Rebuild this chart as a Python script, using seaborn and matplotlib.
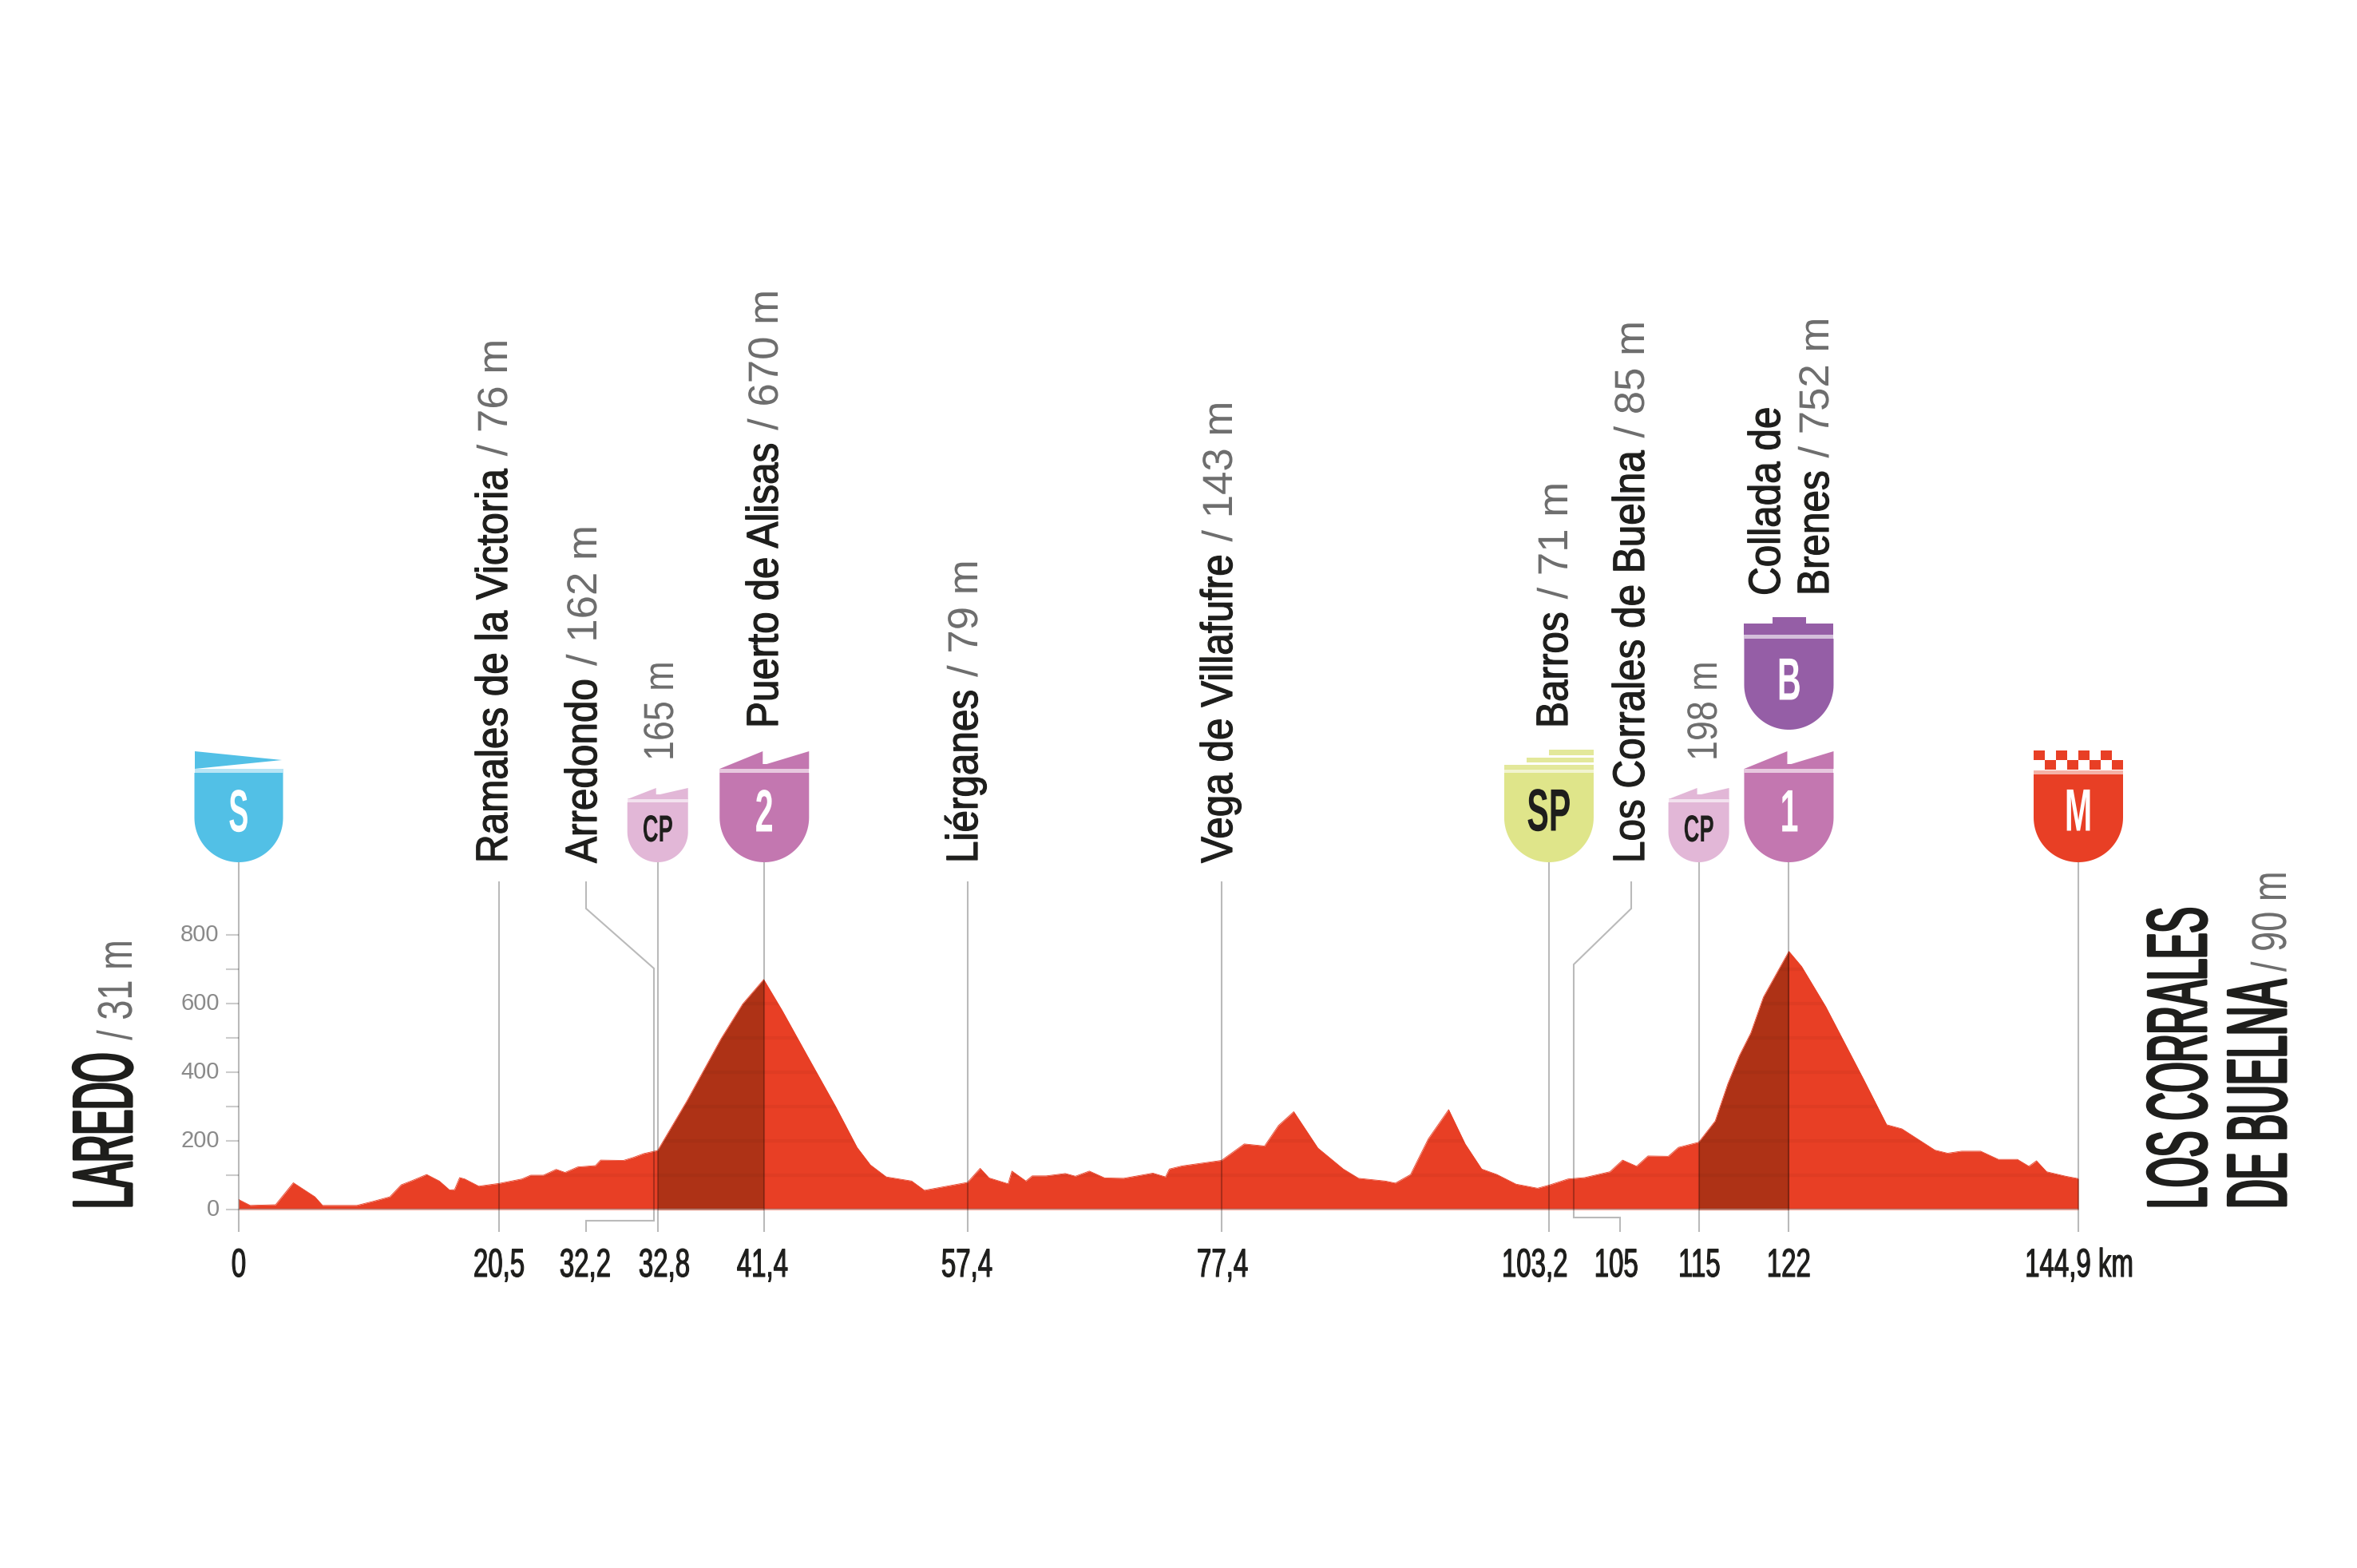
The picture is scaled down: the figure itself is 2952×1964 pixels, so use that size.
import numpy as np
import matplotlib
matplotlib.use("Agg")
import matplotlib.pyplot as plt
import matplotlib.patheffects as pe
from matplotlib.transforms import Affine2D, ScaledTranslation
import seaborn as sns

# profile: km / metres
km = [0, 0.9, 2.9, 4.3, 6, 6.6, 9.3, 10.6, 11.9, 12.8, 13.7, 14.8, 15.8, 16.6, 17, 17.4, 17.8, 18.9,
      20.5, 22.3, 23, 24, 25, 25.7, 26.7, 28.1, 28.5, 30.3, 31.1, 31.9, 33, 35.3, 38, 39.7, 41.35,
      42.8, 44.9, 47, 48.7, 49.75, 51, 53, 54, 57.4, 58.4, 59.1, 60.6, 60.9, 62, 62.5, 63.6, 65.1,
      65.9, 67, 68.2, 69.7, 72, 73, 73.3, 74.3, 77.4, 78.9, 79.2, 80.8, 81.9, 83.1, 85, 87, 88.2,
      90.3, 91.1, 92.3, 93.7, 95.3, 96.6, 97.9, 99.1, 100.6, 102.3, 103.2, 104.7, 106, 108, 109,
      110.1, 111, 112.6, 113.4, 115, 116.3, 117.3, 118.2, 119.1, 120.1, 122.1, 123.1, 125, 128, 129.8,
      131, 133.6, 134.6, 135.7, 137.2, 138.6, 140.1, 141, 141.6, 142.4, 143.9, 144.9]
elev = [29, 12, 14, 78, 37, 12, 12, 24, 37, 72, 85, 102, 83, 57, 58, 93, 89, 68,
        76, 89, 100, 100, 117, 108, 124, 128, 144, 143, 152, 163, 172, 316, 498, 599, 670,
        580, 440, 301, 181, 130, 95, 83, 56, 79, 120, 92, 75, 112, 83, 98, 98, 105,
        97, 112, 92, 91, 106, 95, 118, 127, 143, 183, 191, 185, 245, 285, 179, 118, 91,
        83, 77, 102, 206, 291, 191, 118, 102, 74, 62, 71, 89, 93, 110, 144,
        126, 156, 155, 181, 196, 258, 367, 448, 514, 619, 752, 708, 591, 378, 247,
        235, 173, 164, 170, 170, 146, 146, 126, 142, 110, 97, 90]
climbs = [(33, 41.35), (115, 122.1)]
y_ticks = [0, 200, 400, 600, 800]
y_minor = [100, 300, 500, 700]

stop_km = [20.5, 57.4, 77.4]
badge_km = [0, 33, 41.4, 103.2, 115, 122.1, 144.9]
tick_labels = ["0", "20,5", "32,2", "32,8", "41,4", "57,4", "77,4", "103,2", "105", "115", "122", "144,9 km"]
place_names = ["Ramales de la Victoria", "Arredondo", "", "Puerto de Alisas", "Liérganes", "Vega de Villafufre",
               "Barros", "Los Corrales de Buelna", "", "Collada de", "Brenes"]
place_heights = ["/ 76 m", "/ 162 m", "165 m", "/ 670 m", "/ 79 m", "/ 143 m", "/ 71 m", "/ 85 m", "198 m", "", "/ 752 m"]

# layout, in image pixels
W, H = 2952, 1965
tick_label_x = [299, 625, 733, 832, 955, 1211, 1531, 1922, 2024, 2128, 2240, 2604]
label_base_x = [635, 747, 843, 974, 1224, 1543, 1963, 2059, 2150, 2229, 2290]
label_bottom = [1082, 1082, 954, 913, 1082, 1082, 913, 1082, 954, 747, 747]

RED = "#E83F25"
DARK = "#AE3216"
INK = "#1E1E1C"
GREY = "#6E6E6E"


class Squeeze(pe.AbstractPathEffect):
    # condenses a real text object along its baseline, the fonts here have no narrow cut
    def __init__(self, sx=1.0, stroke=0.0, center=False):
        super().__init__()
        self.sx, self.stroke, self.center = sx, stroke, center

    def draw_path(self, renderer, gc, tpath, affine, rgbFace=None):
        mid = tpath.get_extents().x0 / 2 + tpath.get_extents().x1 / 2 if self.center else 0
        squeeze = Affine2D().translate(-mid, 0).scale(self.sx, 1).translate(mid, 0)
        gc0 = renderer.new_gc()
        gc0.copy_properties(gc)
        gc0.set_foreground(rgbFace)
        gc0.set_linewidth(self.stroke)
        renderer.draw_path(gc0, tpath, squeeze + affine, rgbFace)
        gc0.restore()


sns.set_theme(style="white")
plt.rcParams["font.family"] = ["Liberation Sans", "DejaVu Sans"]

fig = plt.figure(figsize=(W / 100, H / 100), dpi=100, facecolor="white")
ax = fig.add_axes([299 / W, (H - 1516) / H, 2304 / W, 344 / H])
km_arr, elev_arr = np.array(km), np.array(elev)

area = ax.fill_between(km_arr, 0, elev_arr, color=RED, lw=0)
for start, end in climbs:
    ax.fill_between(km_arr, 0, elev_arr, where=(km_arr >= start) & (km_arr <= end), color=DARK, lw=0)
sns.lineplot(x=km, y=elev, color=RED, lw=0.6, ax=ax)
for v in y_ticks + y_minor:
    band = ax.axhline(v, color="black", alpha=0.035, lw=3)
    band.set_clip_path(area.get_paths()[0], area.get_transform())
ax.axhline(0, color="#AAAAAA", lw=1.2)

ax.set_xlim(0, 144.9)
ax.set_ylim(0, 800)
ax.set_xticks([])
ax.set_yticks(y_ticks)
ax.set_yticks(y_minor, minor=True)
ax.set_yticklabels([str(v) for v in y_ticks])
ax.tick_params(axis="y", which="both", left=True, length=11.5, width=1.5, color="#CCCCCC", pad=6,
               labelsize=21, labelcolor="#8A8A8A")
for lab in ax.get_yticklabels():
    lab.set_transform(lab.get_transform() + ScaledTranslation(0, 4 / 100, fig.dpi_scale_trans))
ax.patch.set_alpha(0)
for s in ax.spines.values():
    s.set_visible(False)

# everything around the profile sits on a pixel overlay
ov = fig.add_axes([0, 0, 1, 1], zorder=3)
ov.set_xlim(0, W)
ov.set_ylim(H, 0)
ov.axis("off")
ov.patch.set_alpha(0)


def px(k):
    return ax.transData.transform((k, 0))[0]


def rule(xs, ys):
    ov.plot(xs, ys, color="black", alpha=0.27, lw=1.5, solid_capstyle="butt", solid_joinstyle="miter")


def shield(cx, top, bottom, w, color):
    r = w / 2
    t = np.linspace(0, np.pi, 50)
    ov.fill([cx - r, cx + r, cx + r, cx - r], [top - 5, top - 5, top, top], color=color, alpha=0.4, lw=0)
    ov.fill(np.r_[cx - r, cx + r, cx + r * np.cos(t)], np.r_[top, top, bottom - r + r * np.sin(t)], color=color, lw=0)


def sawteeth(cx, top, base, w, color):
    r = w / 2
    ov.fill([cx - r, cx - 2, cx - 2, cx + 3, cx + r, cx + r], [base, top, base - 6, base - 6, top, base], color=color, lw=0)


def badge_text(cx, cy, s, color, size, sx=0.55):
    ov.text(cx, cy, s, color=color, fontsize=size, fontweight="bold", ha="center", va="center",
            path_effects=[Squeeze(sx, center=True)])


for k in stop_km:
    rule([px(k)] * 2, [1105, 1544])
for k in badge_km:
    rule([px(k)] * 2, [1081, 1544])

rule([734, 734, 819, 819, 734, 734], [1105, 1139, 1214, 1530, 1530, 1544])
rule([2043, 2043, 1971, 1971, 2029, 2029], [1105, 1139, 1209, 1526, 1526, 1544])

# start flag
x = px(badge_km[0])
ov.fill([x - 55, x + 54, x - 55], [942, 953, 964], color="#52C0E6", lw=0)
shield(x, 969, 1081, 111, "#52C0E6")
badge_text(x, 1023, "S", "white", 54, 0.5)

# sprint climbs
for k, name in zip([badge_km[1], badge_km[4]], ["CP", "CP"]):
    x = px(k)
    sawteeth(x, 988, 1002, 76, "#E2B7D7")
    shield(x, 1006, 1081, 76, "#E2B7D7")
    badge_text(x, 1043, name, INK, 34, 0.58)

for k, name in zip([badge_km[2], badge_km[5]], ["2", "1"]):
    x = px(k)
    sawteeth(x, 942, 964, 112, "#C377B0")
    shield(x, 969, 1081, 112, "#C377B0")
    badge_text(x, 1023, name, "white", 54)

# sprint
x = px(badge_km[3])
for left, top, bot in [(0, 940, 947), (-28, 950, 956), (-56, 959, 965)]:
    ov.fill([x + left, x + 56, x + 56, x + left], [top, top, bot, bot], color="#E3E89A", lw=0)
shield(x, 969, 1081, 112, "#DFE58A")
badge_text(x, 1022, "SP", INK, 54)

# bonus
x = px(badge_km[5])
ov.fill([x - 56, x - 20, x - 20, x + 22, x + 22, x + 56, x + 56, x - 56],
        [782, 782, 774, 774, 782, 782, 796, 796], color="#955EA6", lw=0)
shield(x, 801, 915, 112, "#955EA6")
badge_text(x, 858, "B", "white", 54)

# finish
x = px(badge_km[6])
for row in range(2):
    for col in range(8):
        if (row + col) % 2 == 0:
            left = x - 56 + col * 14
            ov.fill([left, left + 14, left + 14, left], [941 + row * 12] * 2 + [953 + row * 12] * 2, color=RED, lw=0)
shield(x, 971, 1081, 112, RED)
badge_text(x, 1022, "M", "white", 54)

# km labels under the axis
for x, s in zip(tick_label_x, tick_labels):
    ov.text(x, 1587, s, color=INK, fontsize=36, ha="center", va="center",
            path_effects=[Squeeze(0.66, stroke=0.8, center=True)])

# rotated place names
renderer = fig.canvas.get_renderer()


def vtext(x, bottom, s, size, color, sx, stroke=0.0):
    return ov.text(x, bottom, s, color=color, fontsize=size, rotation=90, rotation_mode="anchor",
                   ha="left", va="baseline", path_effects=[Squeeze(sx, stroke)])


def vlength(t, sx):
    return t.get_window_extent(renderer).height * sx


for name, height, x, bottom in zip(place_names, place_heights, label_base_x, label_bottom):
    y = bottom
    if name:
        t = vtext(x, y, name, 40, INK, 0.89, 0.9)
        y -= vlength(t, 0.89) + 16
    if height:
        vtext(x, y, height, 38, GREY, 1.0 if "/" in height else 0.85)

# start and finish names
t = vtext(165, 1515, "LAREDO", 76, INK, 0.45, 2.2)
vtext(165, 1515 - vlength(t, 0.45) - 16, "/ 31 m", 44, GREY, 0.74)
vtext(2763, 1515, "LOS CORRALES", 76, INK, 0.46, 2.2)
t = vtext(2863, 1515, "DE BUELNA", 76, INK, 0.48, 2.2)
vtext(2863, 1515 - vlength(t, 0.48) - 10, "/ 90 m", 44, GREY, 0.74)

fig.savefig("out.png", dpi=100, facecolor="white")
